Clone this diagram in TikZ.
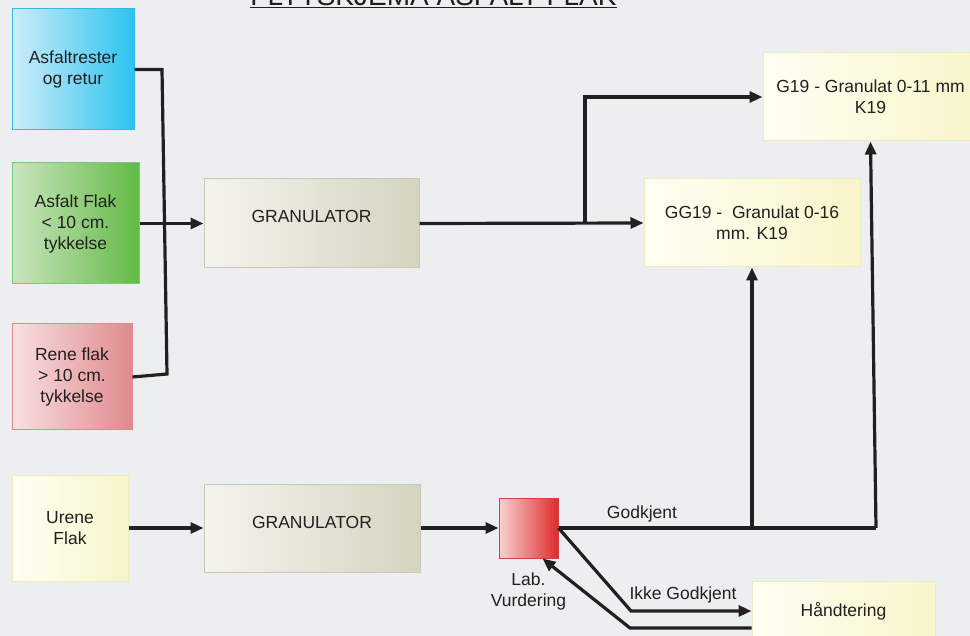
\documentclass[tikz,border=0pt]{standalone}
\usepackage{fontspec}
\setmainfont{Liberation Sans}
\usetikzlibrary{positioning,arrows.meta}

\definecolor{bakgrunn}{RGB}{237,238,240}
\definecolor{tekstfarge}{RGB}{35,31,32}
\definecolor{blaaV}{RGB}{205,237,249}
\definecolor{blaaH}{RGB}{44,195,239}
\definecolor{blaaKant}{RGB}{52,184,230}
\definecolor{gronnV}{RGB}{201,229,190}
\definecolor{gronnH}{RGB}{99,186,70}
\definecolor{gronnKant}{RGB}{120,200,120}
\definecolor{rosaV}{RGB}{249,224,226}
\definecolor{rosaH}{RGB}{224,138,142}
\definecolor{rosaKant}{RGB}{224,136,144}
\definecolor{gulV}{RGB}{254,254,243}
\definecolor{gulH}{RGB}{248,245,202}
\definecolor{gulKant}{RGB}{237,235,192}
\definecolor{graaV}{RGB}{244,244,238}
\definecolor{graaH}{RGB}{212,212,192}
\definecolor{graaKant}{RGB}{200,200,184}
\definecolor{rodV}{RGB}{248,208,208}
\definecolor{rodH}{RGB}{224,44,44}
\definecolor{rodKant}{RGB}{208,64,64}

\begin{document}
\begin{tikzpicture}[x=1pt,y=-1pt,
        boks/.style={draw, line width=1pt, align=center, inner sep=2pt, text=tekstfarge, font=\fontsize{17.5}{21}\selectfont},
        tekst/.style={align=center, inner sep=1pt, text=tekstfarge, font=\fontsize{17.5}{21}\selectfont},
        linje/.style={line width=3.2pt, draw=tekstfarge},
        pil/.style={linje, -{Triangle[length=13pt,width=11pt]}}]
    \fill[bakgrunn] (0,0) rectangle (970,636);
    \useasboundingbox (0,0) rectangle (970,636);

    \node[font=\fontsize{28}{34}\selectfont, text=tekstfarge, anchor=base] (tittel) at (433.5,6) {\underline{FLYTSKJEMA ASFALT FLAK}};

    \node[boks, draw=blaaKant, left color=blaaV, right color=blaaH, minimum width=122pt, minimum height=121pt] (rest) at (73,69.5) {Asfaltrester\\og retur};
    \node[boks, draw=gronnKant, left color=gronnV, right color=gronnH, minimum width=127pt, minimum height=121pt] (flak) at (75.5,223.5) {Asfalt Flak\\< 10 cm.\\tykkelse};
    \node[boks, draw=rosaKant, left color=rosaV, right color=rosaH, minimum width=120pt, minimum height=106pt] (rene) at (72,377) {Rene flak\\> 10 cm.\\tykkelse};
    \node[boks, draw=gulKant, left color=gulV, right color=gulH, minimum width=116pt, minimum height=106pt] (urene) at (70,528) {Urene\\Flak};
    \node[boks, draw=graaKant, left color=graaV, right color=graaH, minimum width=215pt, minimum height=89pt, text depth=14pt] (granA) at (311.5,223.5) {GRANULATOR};
    \node[boks, draw=graaKant, left color=graaV, right color=graaH, minimum width=216pt, minimum height=88pt, text depth=12pt] (granB) at (312,528) {GRANULATOR};
    \node[boks, draw=gulKant, left color=gulV, right color=gulH, minimum width=216pt, minimum height=88pt] (gg19) at (752,223) {GG19 -\ \ Granulat 0-16\\mm. K19};
    \node[boks, draw=gulKant, left color=gulV, right color=gulH, minimum width=215pt, minimum height=88pt] (g19) at (870.5,97) {G19 - Granulat 0-11 mm\\K19};
    \node[boks, draw=rodKant, left color=rodV, right color=rodH, minimum width=59pt, minimum height=60pt] (lab) at (528.5,528) {};
    \node[boks, draw=gulKant, left color=gulV, right color=gulH, minimum width=183pt, minimum height=60pt] (hand) at (843.5,611) {Håndtering};

    \node[tekst, below=13pt of lab] (labtekst) {Lab.\\Vurdering};
    \node[tekst] (godkjenttekst) at (642,514) {Godkjent};
    \node[tekst] (ikketekst) at (683,595) {Ikke Godkjent};

    \coordinate (grenA) at (585,223.5);
    \coordinate (godkjent) at (876,528);

    \draw[linje] (rest.east) -- (162,69.5) -- (167,374) -- (rene.east);
    \draw[pil] (flak.east) -- (granA.west);
    \draw[pil] (granA.east) -- (gg19.west);
    \draw[pil] (grenA) |- (g19.west);
    \draw[pil] (urene.east) -- (granB.west);
    \draw[pil] (granB.east) -- (lab.west);
    \draw[linje] (lab.east) -- (godkjent);
    \draw[pil] (gg19.south |- lab.east) -- (gg19.south);
    \draw[pil] (godkjent) -- (g19.south);
    \draw[pil] (lab.east) -- (631,611) -- (hand.west);
    \draw[pil] ([yshift=-17pt]hand.west) -- (630,628) -- ([xshift=14pt]lab.south);
\end{tikzpicture}
\end{document}
